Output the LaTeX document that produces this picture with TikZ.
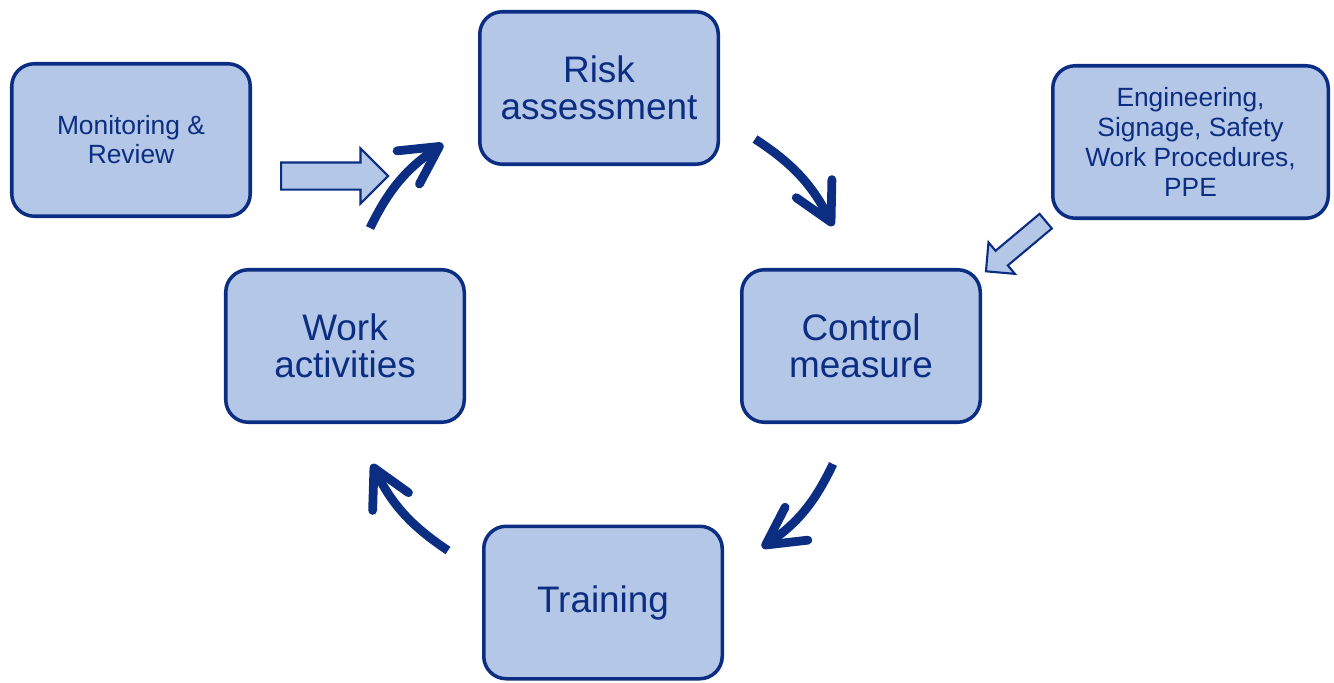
\documentclass[tikz,border=0pt]{standalone}
\usepackage{fontspec}
\setmainfont{Liberation Sans}
\usetikzlibrary{arrows.meta,shapes.arrows}

\definecolor{boxfill}{HTML}{B4C7E7}
\definecolor{navy}{HTML}{0B2D82}

\begin{document}
\begin{tikzpicture}[
  stage/.style={rectangle, rounded corners=0.45cm, draw=navy, line width=2pt, fill=boxfill, text=navy,
    minimum width=4.77cm, minimum height=3.05cm, align=center, font=\fontsize{21}{21}\selectfont},
  note/.style={stage, font=\fontsize{15}{17}\selectfont},
  cycle/.style={draw=navy, line width=5pt, -{Straight Barb[length=7.5mm,width=8mm,round]}},
  feed/.style={single arrow, draw=navy, line width=1.2pt, fill=boxfill, single arrow head indent=0pt,
    inner xsep=0pt, anchor=tail}
]
\useasboundingbox (0,0) rectangle (26.68,13.64);

% Main cycle
\node[stage] (risk) at (11.98,11.88) {Risk\\assessment};
\node[stage] (control) at (17.22,6.72) {Control\\measure};
\node[stage] (training) at (12.06,1.59) {Training};
\node[stage] (work) at (6.9,6.72) {Work\\activities};

% Side inputs
\node[note, font=\fontsize{15}{16.5}\selectfont] (monitor) at (2.62,10.84) {Monitoring \&\\Review};
\node[note, minimum width=5.51cm] (controls) at (23.81,10.8) {Engineering,\\Signage, Safety\\Work Procedures,\\PPE};

% Block arrows feeding the cycle
\node[feed, minimum height=2.14cm, minimum width=1.06cm, inner ysep=0.25cm,
  single arrow head extend=0.28cm] (review in) at (5.6,10.12) {};
\node[feed, minimum height=1.56cm, minimum width=0.78cm, inner ysep=0.17cm,
  single arrow head extend=0.22cm, rotate=220] (controls in) at (20.93,9.23) {};

% Ends of the curved arrows
\coordinate (w out) at ([shift={(0.5,0.8)}]work.north);
\coordinate (r in)  at ([shift={(-0.7,0.44)}]risk.south west);
\coordinate (r out) at ([shift={(0.7,0.54)}]risk.south east);
\coordinate (c in)  at ([shift={(-0.56,0.84)}]control.north);
\coordinate (c out) at ([shift={(-0.56,-0.8)}]control.south);
\coordinate (t in)  at ([shift={(0.76,-0.46)}]training.north east);
\coordinate (t out) at ([shift={(-0.68,-0.52)}]training.north west);
\coordinate (w in)  at ([shift={(0.54,-0.8)}]work.south);

% Curved arrows
\draw[cycle] (w out) to[bend left=15] (r in);
\draw[cycle] (r out) to[bend left=15] (c in);
\draw[cycle] (c out) to[bend left=15] (t in);
\draw[cycle] (t out) to[bend left=15] (w in);

\end{tikzpicture}
\end{document}
